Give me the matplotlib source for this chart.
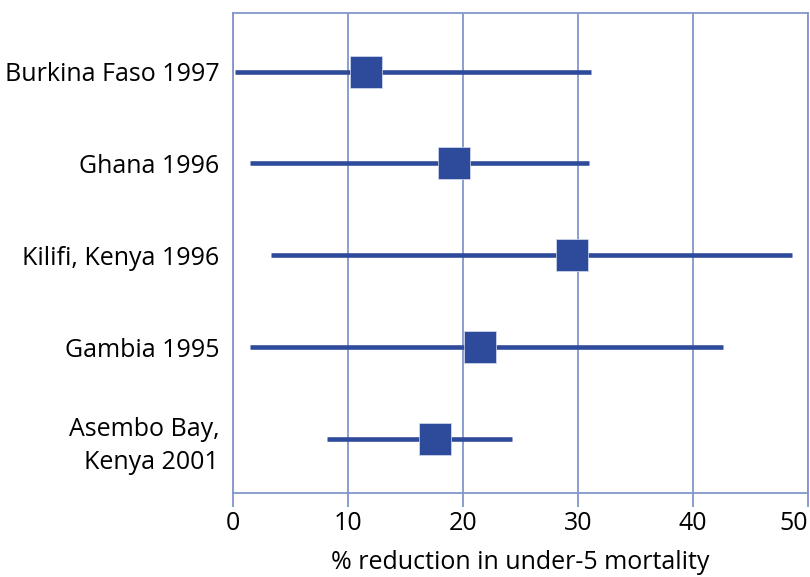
import matplotlib
matplotlib.use("Agg")
import matplotlib.pyplot as plt

plt.rcParams['font.family'] = ['Open Sans', 'DejaVu Sans']

# studies from top to bottom
studies = ["Burkina Faso 1997", "Ghana 1996", "Kilifi, Kenya 1996",
           "Gambia 1995", "Asembo Bay,\nKenya 2001"]
estimate = [11.6, 19.2, 29.5, 21.5, 17.6]
ci_low = [0.2, 1.5, 3.3, 1.5, 8.2]
ci_high = [31.1, 31.0, 48.6, 42.6, 24.3]

dark = '#2e4a9a'
grid = '#8296cc'

fig = plt.figure(figsize=(8.1, 5.77), dpi=100)
ax = fig.add_axes([0.2877, 0.1456, 0.7098, 0.832])

n = len(studies)
ypos = [n - 1 - i for i in range(n)]

for i in range(n):
    ax.plot([ci_low[i], ci_high[i]], [ypos[i], ypos[i]], color=dark,
            linewidth=3.3, solid_capstyle='butt', zorder=3)
    ax.plot(estimate[i], ypos[i], marker='s', markersize=23, color=dark,
            markeredgecolor='#d8def0', markeredgewidth=0.5, zorder=4)

ax.set_xlim(0, 50)
ax.set_ylim(-0.59, 4.64)
ax.set_xticks([0, 10, 20, 30, 40, 50])
ax.set_yticks(ypos)
ax.set_yticklabels(studies, fontsize=18, linespacing=1.45)
ax.tick_params(axis='y', length=0, pad=10)
ax.tick_params(axis='x', length=10, width=1.3, color=grid, labelsize=18, pad=3)
ax.get_xticklabels()[-1].set_horizontalalignment('right')
ax.xaxis.grid(True, color=grid, linewidth=1.3)
ax.set_axisbelow(True)
for s in ['left', 'right', 'top', 'bottom']:
    ax.spines[s].set_color(grid)
    ax.spines[s].set_linewidth(1.3)

ax.set_xlabel('% reduction in under-5 mortality', fontsize=18, labelpad=10)

fig.savefig("out.png", dpi=100)
